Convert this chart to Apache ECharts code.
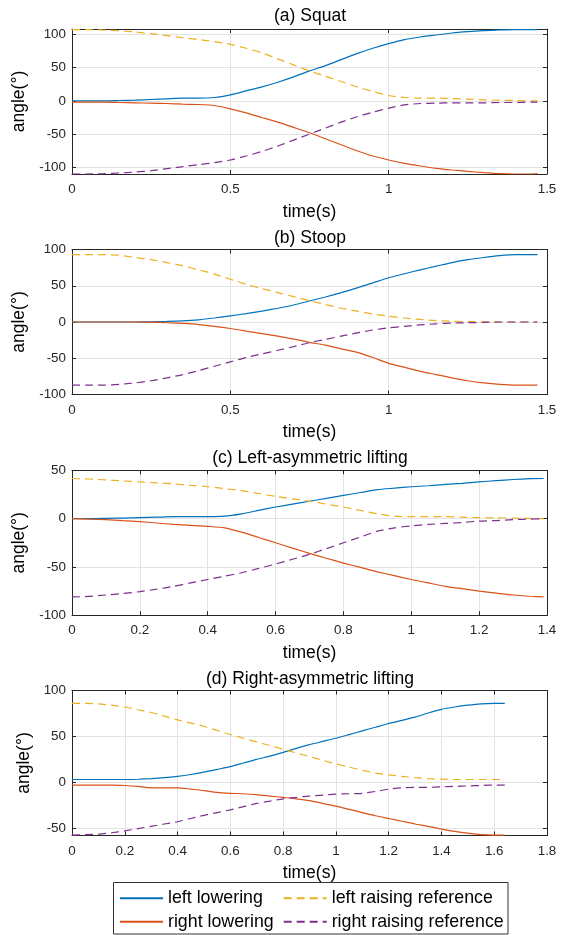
<!DOCTYPE html>
<html>
<head>
<meta charset="utf-8">
<script src="https://cdn.jsdelivr.net/npm/echarts@6/dist/echarts.min.js"></script>
<style>html,body{margin:0;padding:0;background:#fff;}#c{width:571px;height:935px;}</style>
</head>
<body>
<div id="c"></div>
<script>
// ---------- data ----------
const titles = ['(a) Squat', '(b) Stoop', '(c) Left-asymmetric lifting', '(d) Right-asymmetric lifting'];
const seriesNames = ['left lowering', 'right lowering', 'left raising reference', 'right raising reference'];

const tA = [0,0.05,0.1,0.15,0.2,0.25,0.3,0.35,0.4,0.45,0.5,0.55,0.6,0.65,0.7,0.75,0.8,0.85,0.9,0.95,1.0,1.05,1.1,1.15,1.2,1.25,1.3,1.35,1.4,1.45,1.47];
const aLeftLow  = [0,0,0,0.5,1,2,3,4,4,5,9,15,21,28,36,45,53,62,71,79,86,92,96,99,102,104,105.5,106.5,107,107,107];
const aRightLow = [-2,-2,-2,-2.5,-3,-3.5,-4,-5,-5.5,-7,-12,-18,-25,-32,-40,-48,-57,-66,-75,-83,-89,-94,-98,-101.5,-104,-106,-108,-109.5,-110,-110,-109.5];
const aLeftRef  = [107,107,106.5,105.5,103.5,101,98,95,92,89,85,79,72,63,54,45,37,29,21,14,8,5,4,4,3.5,2.5,1.5,1,0.5,0,0];
const aRightRef = [-110,-110,-109.5,-108.5,-107,-105,-102,-99,-96,-93,-89,-83,-76,-68,-59,-50,-41,-32,-24,-17,-11,-6,-4,-3.5,-3,-3,-3,-2.5,-2.5,-2,-2];

const tB = [0,0.05,0.1,0.15,0.2,0.25,0.3,0.35,0.4,0.45,0.5,0.55,0.6,0.65,0.7,0.75,0.8,0.85,0.9,0.95,1.0,1.05,1.1,1.15,1.2,1.25,1.3,1.35,1.4,1.45,1.47];
const bLeftLow  = [0,0,0,0,0,0.3,0.8,1.5,3,5.5,8.5,11.5,15,19,23.5,29,34.5,40.5,47,54,61,66.5,72,77,82,86,89,91.5,93,93,93];
const bRightLow = [0,0,0,0,0,-0.3,-1,-2,-3.5,-6,-9,-12.5,-16,-19.5,-23.5,-28,-32,-37,-42,-49,-57,-62.5,-68,-72.5,-77,-81,-84,-86,-87,-87,-87];
const bLeftRef  = [93,93,93,92,89,86,82,77.5,72,66,59,52,46,40.5,35,29.5,24,19,15,11,8,5.5,3.5,2,1,0.5,0.3,0,0,0,0];
const bRightRef = [-87,-87,-87,-86,-84,-81,-77,-72.5,-67,-61,-55,-49,-44,-39,-34,-28.5,-24,-19.5,-15,-11,-8,-6,-4,-2.5,-1.5,-1,-0.5,0,0,0,0];

const tC = [0,0.05,0.1,0.15,0.2,0.25,0.3,0.35,0.4,0.45,0.5,0.55,0.6,0.65,0.7,0.75,0.8,0.85,0.9,0.95,1.0,1.05,1.1,1.15,1.2,1.25,1.3,1.35,1.39];
const cLeftLow  = [0,0,0.3,0.6,1,1.5,2,2,2,2.5,5,8.5,12,15,18,21,24,27,30,31.5,33,34,35.5,36.5,38,39.3,40.5,41.3,41.5];
const cRightLow = [0,-0.5,-1,-2,-3,-4.5,-6,-7,-8,-9.5,-14,-19.5,-25,-30.5,-36,-41,-46,-50.5,-55,-59,-63,-66.5,-70,-72.5,-75,-77,-79,-80.3,-81];
const cLeftRef  = [41.5,41,40,39,38,37,36,34.5,33,31,29,26,23,20.5,18,15,12,8.5,5,2.5,2,2,2,1.5,1,0.8,0.5,0.2,0];
const cRightRef = [-81,-80.5,-79,-77.5,-75.5,-73,-70,-66.5,-63,-59.5,-56,-51.5,-47,-42,-37,-31,-25,-19,-13,-9.5,-7.5,-6,-5,-4,-2.5,-2,-1,-0.5,0];

const tD = [0,0.05,0.1,0.15,0.2,0.25,0.3,0.35,0.4,0.45,0.5,0.55,0.6,0.65,0.7,0.75,0.8,0.85,0.9,0.95,1.0,1.05,1.1,1.15,1.2,1.25,1.3,1.35,1.4,1.45,1.5,1.55,1.6,1.64];
const dLeftLow  = [3,3,3,3,3,3.3,4,5,6.5,8.5,11,14,17,21,25,28.5,32.5,37,41,44.5,48,52,56,60,64,67.5,71,75.5,79.5,82,84,85.5,86,86];
const dRightLow = [-3,-3,-3,-3,-3.5,-4.5,-6,-6,-6,-7.5,-9,-11,-12,-12.5,-13.5,-15,-16.5,-18,-20,-23,-26,-29.5,-33,-36.5,-39.5,-42.5,-45.5,-48,-51,-53.5,-55.5,-57,-57.5,-57.5];
const dLeftRef  = [86,86,85.5,84,82,79,76,72,68,64.5,61,56.5,52,48,44,40,36,32,28,24,20,16.5,13,10,8,6.5,5,4,3.5,3,3,3,3,3];
const dRightRef = [-57.5,-57,-56.5,-55,-53,-50.5,-48,-45.5,-43,-39.5,-36,-33,-30,-26.5,-23,-20.5,-18,-16.5,-15,-14,-13,-12.5,-12,-10,-7.5,-6,-5.5,-5.5,-5,-4.5,-4,-3.5,-3,-3];

// axis settings
const xMax = [1.5, 1.5, 1.4, 1.8];
const xStep = [0.5, 0.5, 0.2, 0.2];
const yMin = [-110, -100, -100, -58];
const yMax = [108, 100, 50, 100];
const yTicks = [[-100,-50,0,50,100],[-100,-50,0,50,100],[-100,-50,0,50],[-50,0,50,100]];

const panels = [
  {t: tA, s: [aLeftLow, aRightLow, aLeftRef, aRightRef]},
  {t: tB, s: [bLeftLow, bRightLow, bLeftRef, bRightRef]},
  {t: tC, s: [cLeftLow, cRightLow, cLeftRef, cRightRef]},
  {t: tD, s: [dLeftLow, dRightLow, dLeftRef, dRightRef]}
];

// ---------- styling ----------
const FONT = 'Liberation Sans, Arial, Helvetica, sans-serif';
const colors = ['#0072BD', '#D95319', '#EDB120', '#7E2F8E'];
const dashed = [false, false, true, true];
const gridTops = [29, 249.5, 470.3, 690.5];
const titleCenters = [17, 238.3, 459, 679.3];
const axisCol = '#262626';
const gridCol = '#e3e3e3';
const LABEL_FS = 17.5, TICK_FS = 13.4;

const grid = [], xAxis = [], yAxis = [], series = [], title = [];
gridTops.forEach((top, i) => {
  grid.push({left: 72, right: 24, top: top, height: 145, containLabel: false});
  title.push({text: titles[i], left: 310, top: titleCenters[i] - LABEL_FS * 0.55, textAlign: 'center', padding: 0,
    textStyle: {fontFamily: FONT, fontSize: LABEL_FS, fontWeight: 'normal', color: '#000'}});
  // bottom x axis
  xAxis.push({gridIndex: i, type: 'value', position: 'bottom', min: 0, max: xMax[i], interval: xStep[i],
    name: 'time(s)', nameLocation: 'middle', nameGap: 29,
    nameTextStyle: {fontFamily: FONT, fontSize: LABEL_FS, color: '#000'},
    axisLine: {show: true, onZero: false, lineStyle: {color: axisCol, width: 1}},
    axisTick: {show: true, inside: true, length: 4, lineStyle: {color: axisCol}},
    axisLabel: {fontFamily: FONT, fontSize: TICK_FS, color: axisCol, margin: 9,
      formatter: v => String(+v.toFixed(2))},
    splitLine: {show: true, lineStyle: {color: gridCol, width: 1}}
  });
  // top x axis (ticks only)
  xAxis.push({gridIndex: i, type: 'value', position: 'top', min: 0, max: xMax[i], interval: xStep[i],
    axisLine: {show: true, onZero: false, lineStyle: {color: axisCol, width: 1}},
    axisTick: {show: true, inside: true, length: 4, lineStyle: {color: axisCol}},
    axisLabel: {show: false}, splitLine: {show: false}
  });
  // left y axis
  yAxis.push({gridIndex: i, type: 'value', position: 'left', min: yMin[i], max: yMax[i],
    name: 'angle(°)', nameLocation: 'middle', nameGap: 36, nameRotate: 90,
    nameTextStyle: {fontFamily: FONT, fontSize: LABEL_FS, color: '#000'},
    axisLine: {show: true, onZero: false, lineStyle: {color: axisCol, width: 1}},
    axisTick: {show: true, inside: true, length: 4, lineStyle: {color: axisCol}, customValues: yTicks[i]},
    axisLabel: {fontFamily: FONT, fontSize: TICK_FS, color: axisCol, margin: 6, customValues: yTicks[i]},
    splitLine: {show: true, lineStyle: {color: gridCol, width: 1}}
  });
  // right y axis (ticks only)
  yAxis.push({gridIndex: i, type: 'value', position: 'right', min: yMin[i], max: yMax[i],
    axisLine: {show: true, onZero: false, lineStyle: {color: axisCol, width: 1}},
    axisTick: {show: true, inside: true, length: 4, lineStyle: {color: axisCol}, customValues: yTicks[i]},
    axisLabel: {show: false, customValues: yTicks[i]}, splitLine: {show: false}
  });
  const p = panels[i];
  p.s.forEach((vals, j) => {
    series.push({
      name: seriesNames[j], type: 'line', xAxisIndex: 2 * i, yAxisIndex: 2 * i,
      data: p.t.map((t, k) => [t, vals[k]]),
      symbol: 'none', smooth: 0.2,
      itemStyle: {color: colors[j]},
      lineStyle: {color: colors[j], width: 1.2, type: dashed[j] ? [8, 5] : 'solid'},
      animation: false, z: 3
    });
  });
});

const legendText = {fontFamily: FONT, fontSize: 17.8, lineHeight: 18, color: '#000'};
const legendCommon = {orient: 'vertical', top: 889.3, itemWidth: 43, itemHeight: 14, itemGap: 5.4,
  padding: 0, textStyle: legendText, selectedMode: false, itemStyle: {opacity: 0}};
const option = {
  animation: false,
  backgroundColor: '#fff',
  title: title,
  grid: grid,
  xAxis: xAxis,
  yAxis: yAxis,
  series: series,
  legend: [
    Object.assign({data: ['left lowering', 'right lowering'], left: 119}, legendCommon),
    Object.assign({data: ['left raising reference', 'right raising reference'], left: 282.7}, legendCommon)
  ],
  graphic: [{type: 'rect', shape: {x: 113.5, y: 882.5, width: 394.5, height: 51.5}, z: -1,
    style: {fill: '#fff', stroke: '#333', lineWidth: 1}}]
};
const chart = echarts.init(document.getElementById('c'), null, {renderer: 'canvas'});
chart.setOption(option);
</script>
</body>
</html>
